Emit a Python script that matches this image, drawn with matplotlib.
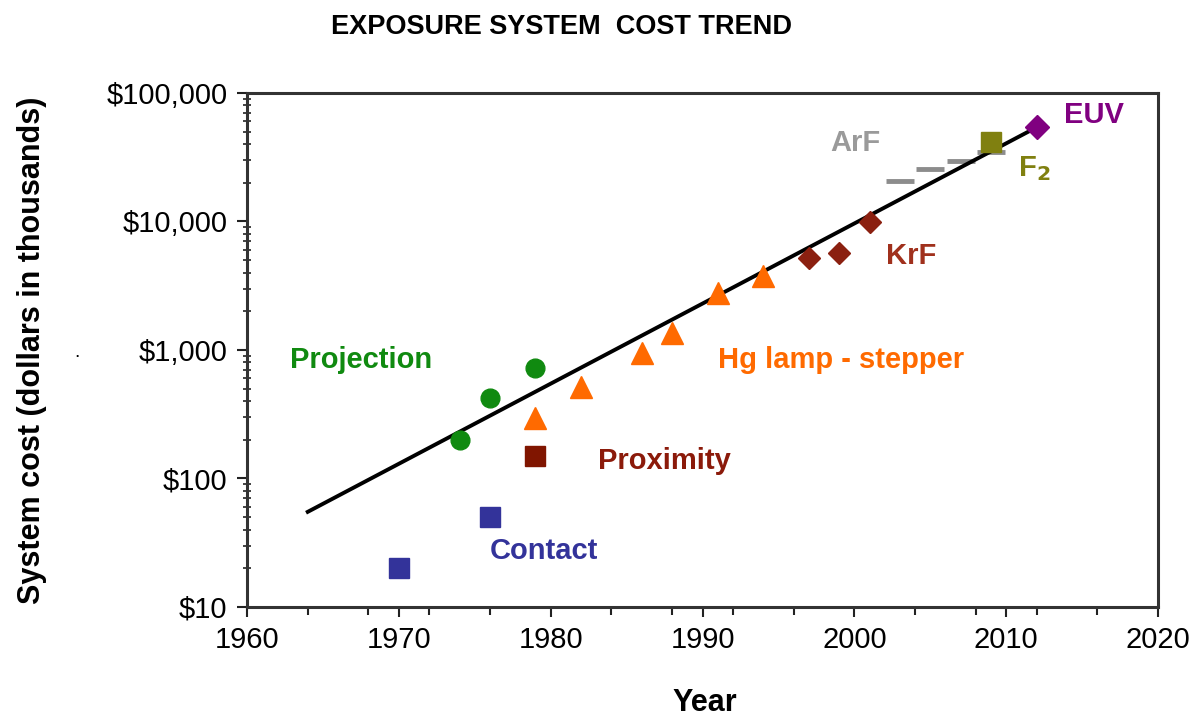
import matplotlib
matplotlib.use('Agg')
import matplotlib.pyplot as plt
import matplotlib.ticker as mticker
import numpy as np

plt.rcParams['font.family'] = ['Liberation Sans', 'DejaVu Sans']

# data (cost in thousands of dollars)
contactYears = [1970, 1976]
contactCost = [20, 50]
proximityYears = [1979]
proximityCost = [150]
projectionYears = [1974, 1976, 1979]
projectionCost = [200, 425, 730]
hgYears = [1979, 1982, 1986, 1988, 1991, 1994]
hgCost = [295, 515, 950, 1350, 2800, 3750]
krfYears = [1997, 1999, 2001]
krfCost = [5200, 5700, 9900]
arfYears = [2003, 2005, 2007, 2009]
arfCost = [20600, 25600, 29500, 34700]
f2Years = [2009]
f2Cost = [41600]
euvYears = [2012]
euvCost = [54300]
trendYears = [1964, 2012]
trendCost = [55, 54000]

fig = plt.figure(figsize=(11.98, 7.19), dpi=100)
ax = fig.add_axes([0.2062, 0.1558, 0.7604, 0.7149])

ax.plot(trendYears, trendCost, color='black', lw=2.8, zorder=2)

ax.plot(contactYears, contactCost, 's', color='#33339A', ms=14, zorder=3)
ax.plot(proximityYears, proximityCost, 's', color='#801500', ms=14, zorder=3)
ax.plot(projectionYears, projectionCost, 'o', color='#108A10', ms=13.5, zorder=3)
ax.plot(hgYears, hgCost, '^', color='#FF6A00', ms=15.5, zorder=3)
ax.plot(krfYears, krfCost, 'D', color='#8B2010', ms=11.5, zorder=3)
ax.plot(arfYears, arfCost, '_', color='#8C8C8C', ms=20, mew=3.5, zorder=1)
ax.plot(f2Years, f2Cost, 's', color='#808010', ms=14, zorder=3)
ax.plot(euvYears, euvCost, 'D', color='#800080', ms=12, zorder=3)

labelSize = 21
ax.text(1962.8, 836, 'Projection', color='#108A10', fontsize=labelSize, fontweight='bold', va='center')
ax.text(1991.0, 836, 'Hg lamp - stepper', color='#FF6A00', fontsize=labelSize, fontweight='bold', va='center')
ax.text(1983.1, 137, 'Proximity', color='#8B1A0A', fontsize=labelSize, fontweight='bold', va='center')
ax.text(1976.0, 27.3, 'Contact', color='#33339A', fontsize=labelSize, fontweight='bold', va='center')
ax.text(2002.1, 5390, 'KrF', color='#A0301C', fontsize=labelSize, fontweight='bold', va='center')
ax.text(1998.4, 40500, 'ArF', color='#9A9A9A', fontsize=labelSize, fontweight='bold', va='center')
ax.text(2010.8, 26000, r'F$_\mathbf{2}$', color='#808010', fontsize=labelSize, fontweight='bold', va='center')
ax.text(2013.8, 67000, 'EUV', color='#800080', fontsize=labelSize, fontweight='bold', va='center')

ax.set_yscale('log')
ax.set_xlim(1960, 2020)
ax.set_ylim(10, 100000)
ax.xaxis.set_major_locator(mticker.MultipleLocator(10))
ax.xaxis.set_minor_locator(mticker.FixedLocator([1964, 1968, 1972, 1976, 1984, 1988, 1992, 1996,
                                                 2004, 2008, 2012, 2016]))
ax.yaxis.set_major_formatter(mticker.FuncFormatter(lambda v, p: '${:,.0f}'.format(v)))
ax.yaxis.set_minor_formatter(mticker.NullFormatter())

ax.tick_params(axis='both', which='major', labelsize=21, length=7, width=1.5, color='#222222', pad=7)
ax.tick_params(axis='x', which='minor', length=6, width=1.5, color='#222222')
ax.tick_params(axis='y', which='minor', direction='inout', length=6, width=1.2, color='#222222')
for s in ax.spines.values():
    s.set_linewidth(2.2)
    s.set_color('#333333')

fig.text(0.469, 0.962, 'EXPOSURE SYSTEM  COST TREND', ha='center', va='center',
         fontsize=19.5, fontweight='bold')
fig.text(0.588, 0.022, 'Year', ha='center', va='center', fontsize=22, fontweight='bold')
fig.text(0.027, 0.513, 'System cost (dollars in thousands)', ha='center', va='center',
         rotation=90, fontsize=22, fontweight='bold')
fig.text(0.064, 0.51, '.', ha='center', va='center', fontsize=14)

fig.savefig('out.png', dpi=100)
